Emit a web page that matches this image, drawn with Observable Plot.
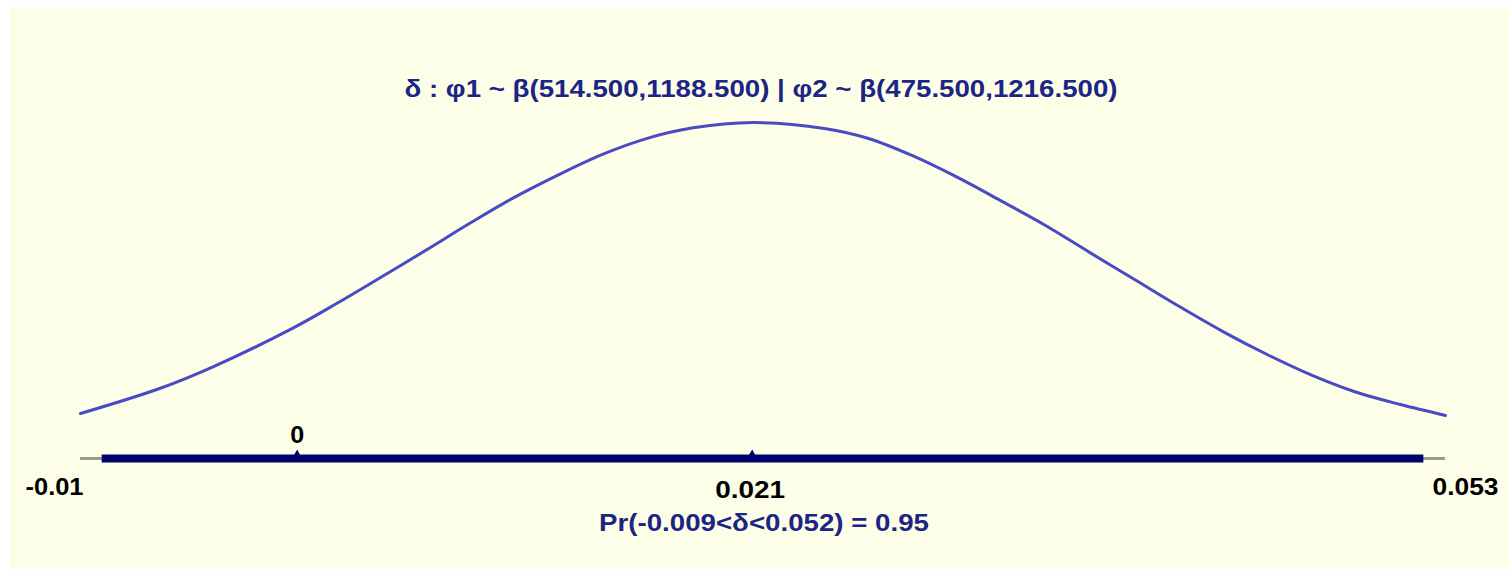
<!DOCTYPE html>
<html>
<head>
<meta charset="utf-8">
<script src="https://cdn.jsdelivr.net/npm/d3@7"></script>
<script src="https://cdn.jsdelivr.net/npm/@observablehq/plot@0.6"></script>
<style>
  html, body { margin: 0; padding: 0; background: #ffffff; }
  #panel {
    position: absolute; left: 10px; top: 7px;
    width: 1499px; height: 562px;
    background: #fcfee8;
  }
  #panel svg { display: block; }
</style>
</head>
<body>
<div id="panel"></div>
<script>
// Posterior density of the difference δ = φ1 − φ2
const titleText = "δ : φ1 ~ β(514.500,1188.500) | φ2 ~ β(475.500,1216.500)";
const captionText = "Pr(-0.009<δ<0.052) = 0.95";

// density curve, sampled along δ
const deltaX = [-0.01, -0.00635, -0.00391, -0.00022, 0.00182, 0.00385, 0.00592, 0.00795,
  0.00998, 0.01206, 0.01409, 0.01612, 0.0182, 0.02106, 0.02434, 0.02637, 0.0284,
  0.03048, 0.03251, 0.03454, 0.03657, 0.03865, 0.04068, 0.04271, 0.04479, 0.04682,
  0.04885, 0.05092, 0.053];
const densityY = [3.42, 5.32, 6.95, 9.88, 11.77, 13.75, 15.80, 17.85,
  19.80, 21.55, 23.10, 24.30, 25.10, 25.52, 25.07, 24.31, 23.00,
  21.35, 19.55, 17.70, 15.66, 13.60, 11.58, 9.66, 7.88, 6.33,
  5.05, 4.10, 3.27];

// axis range and 95% interval
const axisRange = [-0.01, 0.053];
const interval = [-0.009, 0.052];
const centre = 0.021;
const axisLabels = ["-0.01", "0.021", "0.053"];
const zeroLabel = "0";

const curve = deltaX.map((x, i) => ({x, y: densityY[i]}));

const navy = "#00006e";
const textBlue = "#1c2484";
const font = "'Liberation Sans', Arial, sans-serif";

const chart = Plot.plot({
  width: 1499,
  height: 562,
  marginLeft: 70,
  marginRight: 64,
  marginTop: 114,
  marginBottom: 111,
  x: {domain: axisRange, axis: null},
  y: {domain: [0, 25.6], axis: null},
  style: {background: "transparent", overflow: "visible", fontFamily: font},
  marks: [
    Plot.line(curve, {x: "x", y: "y", stroke: "#4a4ac4", strokeWidth: 3, curve: "catmull-rom"}),
    Plot.ruleY([0], {x1: axisRange[0], x2: axisRange[1], stroke: "#9a9a9a", strokeWidth: 3}),
    Plot.ruleY([0], {x1: interval[0], x2: interval[1], stroke: navy, strokeWidth: 8}),
    Plot.dot([0, centre], {x: d => d, y: 0, symbol: "triangle", r: 2.5, fill: navy, stroke: null, dy: -5}),
    Plot.text([zeroLabel], {x: 0, y: 0, text: d => d, dy: -23, fill: "#000", fontSize: 24, fontWeight: "bold"}),
    Plot.text([axisLabels[0]], {x: axisRange[0], y: 0, text: d => d, textAnchor: "end", dx: 3, dy: 29, fill: "#000", fontSize: 24, fontWeight: "bold"}),
    Plot.text([axisLabels[1]], {x: centre, y: 0, text: d => d, dx: -2, dy: 32, fill: "#000", fontSize: 24, fontWeight: "bold"}),
    Plot.text([axisLabels[2]], {x: axisRange[1], y: 0, text: d => d, textAnchor: "start", dx: -13, dy: 29, fill: "#000", fontSize: 24, fontWeight: "bold"}),
    Plot.text([titleText], {frameAnchor: "top", text: d => d, dy: -42, dx: -2, fill: textBlue, fontSize: 24, fontWeight: "bold"}),
    Plot.text([captionText], {frameAnchor: "bottom", text: d => d, dy: 72, dx: 1, fill: textBlue, fontSize: 24, fontWeight: "bold"})
  ]
});

// condensed lettering: stretch each label to its rendered width
const textWidths = new Map([
  [titleText, 713], [captionText, 330], ["0.021", 70], ["-0.01", 58], ["0.053", 66], ["0", 14]
]);
d3.select(chart).selectAll("text").each(function () {
  const w = textWidths.get(this.textContent);
  if (w) {
    this.setAttribute("textLength", w);
    this.setAttribute("lengthAdjust", "spacingAndGlyphs");
  }
});

document.getElementById("panel").appendChild(chart);
</script>
</body>
</html>
